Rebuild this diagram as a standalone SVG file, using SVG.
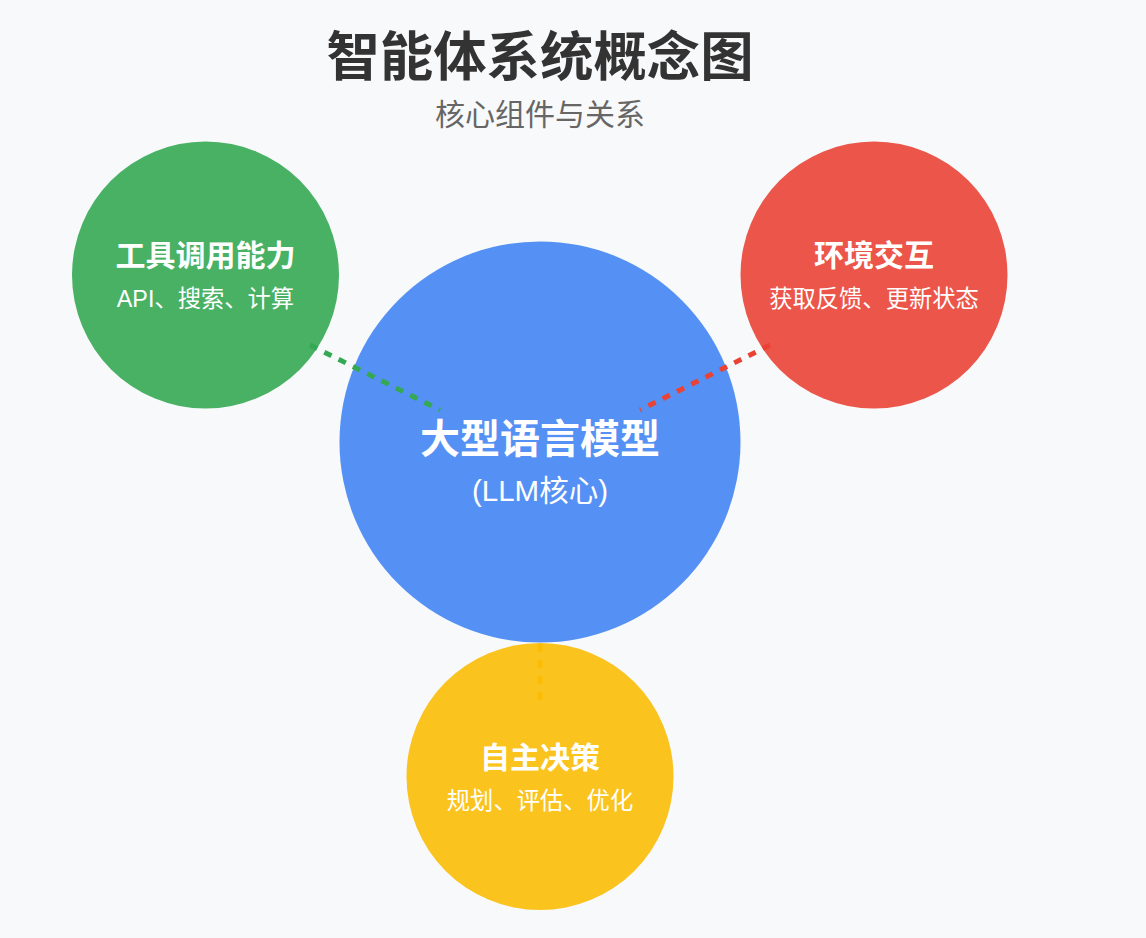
<svg xmlns="http://www.w3.org/2000/svg" width="1146" height="938" viewBox="0 0 1146 938">
<style>
text{font-family:"Liberation Sans","Noto Sans CJK SC",sans-serif;text-anchor:middle}
.title{font-size:53.4px;font-weight:bold;fill:#333333}
.sub{font-size:30px;fill:#666666}
.nt{font-size:30px;font-weight:bold;fill:#ffffff}
.ns{font-size:23.3px;fill:#ffffff}
.ct{font-size:40px;font-weight:bold;fill:#ffffff}
.cs{font-size:29.5px;fill:#ffffff}
.node{opacity:0.9}
.link{stroke-width:5;stroke-dasharray:8 8;fill:none}
</style>
<rect width="1146" height="938" fill="#F8F9FA"/>
<text class="title" x="540" y="76">智能体系统概念图</text>
<text class="sub" x="540" y="125">核心组件与关系</text>
<g id="node-tools">
<circle class="node" cx="205.5" cy="275" r="133.5" fill="#34A853"/>
<text class="nt" x="205.5" y="266">工具调用能力</text>
<text class="ns" x="205.5" y="307">API、搜索、计算</text>
</g>
<g id="node-env">
<circle class="node" cx="874" cy="275" r="133.5" fill="#EA4335"/>
<text class="nt" x="874" y="266">环境交互</text>
<text class="ns" x="874" y="307">获取反馈、更新状态</text>
</g>
<g id="node-llm">
<circle class="node" cx="540" cy="442" r="200.5" fill="#4285F4"/>
<text class="ct" x="540" y="453">大型语言模型</text>
<text class="cs" x="540" y="501">(LLM核心)</text>
</g>
<g id="node-decision">
<circle class="node" cx="540" cy="776.5" r="133.5" fill="#FBBC05"/>
<text class="nt" x="540" y="768">自主决策</text>
<text class="ns" x="540" y="809">规划、评估、优化</text>
</g>
<g id="connectors">
<line class="link" x1="310" y1="345" x2="440" y2="410" stroke="#34A853"/>
<line class="link" x1="770" y1="345" x2="640" y2="410" stroke="#EA4335"/>
<line class="link" x1="540" y1="700" x2="540" y2="640" stroke="#FBBC05"/>
</g>
</svg>
